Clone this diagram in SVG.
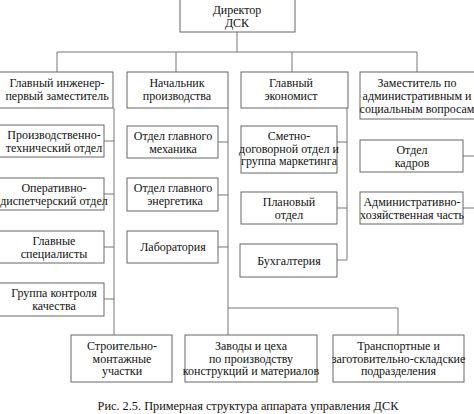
<svg xmlns="http://www.w3.org/2000/svg" width="474" height="414" viewBox="0 0 474 414">
<style>
rect{fill:#fff;stroke:#666;stroke-width:1}
.c line,.c polyline{stroke:#777;stroke-width:1;fill:none}
</style>
<rect x="0" y="0" width="474" height="414" style="fill:#fff;stroke:none"/>
<g class="c" id="connectors">
<line x1="237" y1="32" x2="237" y2="52"/>
<line x1="57" y1="52" x2="417" y2="52"/>
<line x1="57" y1="52" x2="57" y2="72"/>
<line x1="176" y1="52" x2="176" y2="72"/>
<line x1="292" y1="52" x2="292" y2="72"/>
<line x1="417" y1="52" x2="417" y2="72"/>
<line x1="114" y1="108" x2="114" y2="335"/>
<line x1="104" y1="141" x2="114" y2="141"/>
<line x1="104" y1="194" x2="114" y2="194"/>
<line x1="104" y1="247" x2="114" y2="247"/>
<line x1="104" y1="299" x2="114" y2="299"/>
<line x1="228" y1="108" x2="228" y2="335"/>
<line x1="218" y1="142" x2="228" y2="142"/>
<line x1="218" y1="195" x2="228" y2="195"/>
<line x1="218" y1="247" x2="228" y2="247"/>
<polyline points="228,308 398,308 398,335"/>
<line x1="347" y1="108" x2="347" y2="260"/>
<line x1="337" y1="142" x2="347" y2="142"/>
<line x1="337" y1="208" x2="347" y2="208"/>
<line x1="337" y1="260" x2="347" y2="260"/>
<line x1="463" y1="156" x2="474" y2="156"/>
<line x1="463" y1="208" x2="474" y2="208"/>
</g>
<g font-family="Liberation Serif" font-size="12" fill="#111" text-anchor="middle">
<g id="director"><rect x="180" y="-1" width="115" height="33"/><text font-family="Liberation Serif" x="237" y="14">Директор</text><text font-family="Liberation Serif" x="237" y="27">ДСК</text></g>
<g id="chief-engineer"><rect x="-1" y="72" width="114" height="36"/><text font-family="Liberation Serif" x="57" y="87">Главный инженер-</text><text font-family="Liberation Serif" x="57" y="100">первый заместитель</text></g>
<g id="production-head"><rect x="127" y="72" width="101" height="36"/><text font-family="Liberation Serif" x="177" y="87">Начальник</text><text font-family="Liberation Serif" x="177" y="100">производства</text></g>
<g id="chief-economist"><rect x="241" y="72" width="107" height="36"/><text font-family="Liberation Serif" x="291" y="87">Главный</text><text font-family="Liberation Serif" x="291" y="100">экономист</text></g>
<g id="deputy-admin"><rect x="360" y="72" width="120" height="47"/><text font-family="Liberation Serif" x="417" y="87">Заместитель по</text><text font-family="Liberation Serif" x="417" y="100">административным и</text><text font-family="Liberation Serif" x="417" y="113">социальным вопросам</text></g>
<g id="pto"><rect x="-1" y="125" width="105" height="32"/><text font-family="Liberation Serif" x="54" y="139">Производственно-</text><text font-family="Liberation Serif" x="54" y="151.5">технический отдел</text></g>
<g id="dispatch"><rect x="-1" y="178" width="105" height="32"/><text font-family="Liberation Serif" x="54" y="192">Оперативно-</text><text font-family="Liberation Serif" x="54" y="204.5">диспетчерский отдел</text></g>
<g id="specialists"><rect x="-1" y="231" width="105" height="32"/><text font-family="Liberation Serif" x="54" y="245">Главные</text><text font-family="Liberation Serif" x="54" y="257.5">специалисты</text></g>
<g id="quality"><rect x="-1" y="283" width="105" height="33"/><text font-family="Liberation Serif" x="54" y="297">Группа контроля</text><text font-family="Liberation Serif" x="54" y="309.5">качества</text></g>
<g id="mechanic"><rect x="127" y="126" width="91" height="32"/><text font-family="Liberation Serif" x="173" y="140">Отдел главного</text><text font-family="Liberation Serif" x="173" y="152.5">механика</text></g>
<g id="energetic"><rect x="127" y="178" width="91" height="33"/><text font-family="Liberation Serif" x="173" y="192">Отдел главного</text><text font-family="Liberation Serif" x="175" y="204.5">энергетика</text></g>
<g id="lab"><rect x="127" y="231" width="91" height="32"/><text font-family="Liberation Serif" x="173" y="251">Лаборатория</text></g>
<g id="estimate"><rect x="241" y="126" width="96" height="47"/><text font-family="Liberation Serif" x="289" y="140">Сметно-</text><text font-family="Liberation Serif" x="289" y="152.5">договорной отдел и</text><text font-family="Liberation Serif" x="289" y="165">группа маркетинга</text></g>
<g id="planning"><rect x="241" y="192" width="96" height="32"/><text font-family="Liberation Serif" x="289" y="206">Плановый</text><text font-family="Liberation Serif" x="289" y="218.5">отдел</text></g>
<g id="accounting"><rect x="240" y="244" width="97" height="33"/><text font-family="Liberation Serif" x="289" y="264.5">Бухгалтерия</text></g>
<g id="hr"><rect x="360" y="140" width="103" height="32"/><text font-family="Liberation Serif" x="412" y="154">Отдел</text><text font-family="Liberation Serif" x="412" y="166.5">кадров</text></g>
<g id="admin-econ"><rect x="360" y="192" width="103" height="32"/><text font-family="Liberation Serif" x="412" y="206">Административно-</text><text font-family="Liberation Serif" x="412" y="218.5">хозяйственная часть</text></g>
<g id="construction"><rect x="71" y="335" width="101" height="47"/><text font-family="Liberation Serif" x="122" y="350">Строительно-</text><text font-family="Liberation Serif" x="122" y="362.5">монтажные</text><text font-family="Liberation Serif" x="122" y="375">участки</text></g>
<g id="plants"><rect x="185" y="335" width="132" height="47"/><text font-family="Liberation Serif" x="251" y="350">Заводы и цеха</text><text font-family="Liberation Serif" x="251" y="362.5">по производству</text><text font-family="Liberation Serif" x="251" y="375">конструкций и материалов</text></g>
<g id="transport"><rect x="333" y="335" width="131" height="47"/><text font-family="Liberation Serif" x="398.5" y="350">Транспортные и</text><text font-family="Liberation Serif" x="398.5" y="362.5">заготовительно-складские</text><text font-family="Liberation Serif" x="398.5" y="375">подразделения</text></g>
<text font-family="Liberation Serif" x="248" y="410" font-size="12.3">Рис. 2.5. Примерная структура аппарата  управления ДСК</text>
</g>
</svg>
